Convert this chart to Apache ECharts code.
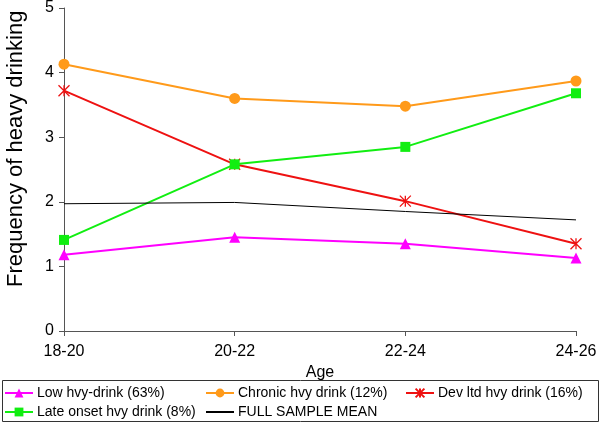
<!DOCTYPE html>
<html>
<head>
    <meta charset="utf-8">
    <title>Frequency of heavy drinking</title>
    <script src="https://cdn.jsdelivr.net/npm/echarts@6/dist/echarts.min.js"></script>
</head>
<body style="margin:0">
<div id="main" style="width: 601px;height:423px;background-color:#fff"></div>
<script type="text/javascript">
    // data
    var ages = ['18-20', '20-22', '22-24', '24-26'];
    var lowHvy = [1.18, 1.45, 1.35, 1.13];
    var chronicHvy = [4.13, 3.60, 3.48, 3.87];
    var devLtdHvy = [3.72, 2.58, 2.01, 1.35];
    var lateOnset = [1.41, 2.58, 2.85, 3.68];
    var fullMean = [1.97, 1.99, 1.85, 1.72];
    var yTicks = [0, 1, 2, 3, 4, 5];

    var names = ['Low hvy-drink (63%)', 'Chronic hvy drink (12%)', 'Dev ltd hvy drink (16%)',
                 'Late onset hvy drink (8%)', 'FULL SAMPLE MEAN'];

    var myChart = echarts.init(document.getElementById('main'));
    var font = 'Liberation Sans, Arial, sans-serif';

    // one legend per entry so the columns line up like the original
    var legendPos = [[4, 386], [205, 386], [405, 386], [4, 405], [205, 405]];
    var legends = names.map(function (n, i) {
        var item = {name: n};
        // the mean line has no marker
        if (i === 4) item.itemStyle = {opacity: 0};
        return {
            data: [item],
            left: legendPos[i][0],
            top: legendPos[i][1],
            padding: 0,
            itemWidth: 28,
            itemHeight: 11,
            itemGap: 4,
            textStyle: {fontFamily: font, fontSize: 14, color: '#000', padding: [0, 0, 0, -1]}
        };
    });

    function lineSeries(name, data, color, symbol, extra) {
        var s = {
            name: name,
            type: 'line',
            data: data,
            symbol: symbol,
            symbolSize: 11,
            lineStyle: {color: color, width: 2},
            itemStyle: {color: color},
            emphasis: {disabled: true}
        };
        return Object.assign(s, extra || {});
    }

    myChart.setOption({
        animation: false,
        textStyle: {fontFamily: font},
        grid: {left: 64, right: 25, top: 6, bottom: 92},
        legend: legends,
        graphic: [{
            type: 'rect',
            shape: {x: 2.5, y: 380.5, width: 596, height: 41},
            style: {fill: 'none', stroke: '#333', lineWidth: 1},
            z: -1
        }, {
            type: 'text',
            style: {
                text: 'Frequency of heavy drinking',
                font: '22px ' + font,
                fill: '#000'
            },
            rotation: Math.PI / 2,
            x: 5, y: 287
        }],
        xAxis: {
            type: 'category',
            data: ages,
            boundaryGap: false,
            name: 'Age',
            nameLocation: 'middle',
            nameGap: 21,
            nameTextStyle: {fontSize: 16, color: '#000', verticalAlign: 'top'},
            axisLine: {lineStyle: {color: '#555', width: 1}},
            axisTick: {alignWithLabel: true, length: 5, lineStyle: {color: '#555'}},
            axisLabel: {fontSize: 16, color: '#000', margin: 13}
        },
        yAxis: {
            type: 'value',
            min: yTicks[0],
            max: yTicks[yTicks.length - 1],
            interval: 1,
            axisLine: {show: true, lineStyle: {color: '#555', width: 1}},
            axisTick: {show: true, length: 5, lineStyle: {color: '#555'}},
            axisLabel: {fontSize: 16, color: '#000', margin: 10},
            splitLine: {show: false}
        },
        series: [
            lineSeries(names[0], lowHvy, '#ff00ff', 'triangle'),
            lineSeries(names[1], chronicHvy, '#ff9a1a', 'circle'),
            lineSeries(names[2], devLtdHvy, '#ee1111',
                'path://M0,0L10,10M10,0L0,10M5,0L5,10', {
                    itemStyle: {color: 'transparent', borderColor: '#ee1111', borderWidth: 1.3}
                }),
            lineSeries(names[3], lateOnset, '#11ee11', 'rect', {symbolSize: 10}),
            lineSeries(names[4], fullMean, '#000', 'none', {lineStyle: {color: '#000', width: 1}})
        ]
    });
</script>
</body>
</html>
